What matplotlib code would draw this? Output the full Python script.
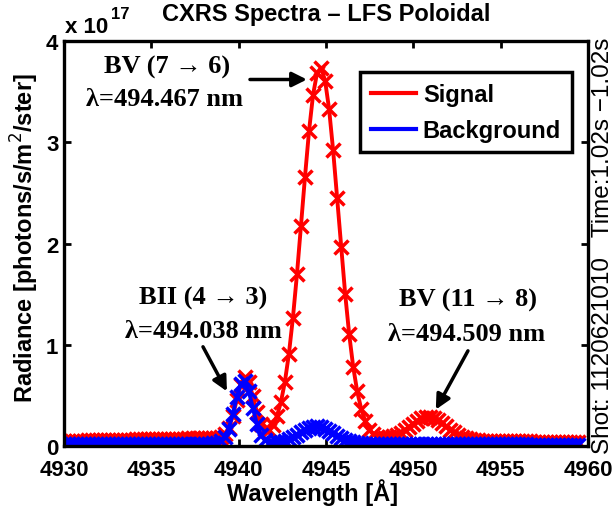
import numpy as np
import matplotlib
matplotlib.use("Agg")
import matplotlib.pyplot as plt
from matplotlib.lines import Line2D

SANS = ["Liberation Sans", "DejaVu Sans"]
SERIF = ["Liberation Serif", "DejaVu Serif"]

# spectrometer pixel grid (linear dispersion, Angstrom)
WL_START = 4930.0
WL_STEP = 0.23
N_PIX = 129

# radiance in units of 1e17 photons/s/m^2/ster
signal = [
    0.050, 0.051, 0.052, 0.052, 0.053, 0.054, 0.055, 0.056, 0.056, 0.057,
    0.058, 0.059, 0.060, 0.061, 0.061, 0.062, 0.063, 0.064, 0.065, 0.065,
    0.066, 0.067, 0.068, 0.069, 0.069, 0.070, 0.071, 0.072, 0.073, 0.074,
    0.074, 0.075, 0.076, 0.077, 0.078, 0.078, 0.079, 0.081, 0.083, 0.091,
    0.117, 0.179, 0.293, 0.451, 0.604, 0.679, 0.634, 0.495, 0.339, 0.221,
    0.164, 0.163, 0.207, 0.294, 0.432, 0.635, 0.912, 1.268, 1.696, 2.172,
    2.659, 3.109, 3.466, 3.685, 3.736, 3.610, 3.327, 2.922, 2.448, 1.961,
    1.503, 1.104, 0.782, 0.539, 0.365, 0.249, 0.161, 0.118, 0.093, 0.083,
    0.080, 0.086, 0.095, 0.111, 0.132, 0.160, 0.190, 0.222, 0.250, 0.273,
    0.285, 0.287, 0.276, 0.256, 0.227, 0.195, 0.163, 0.134, 0.109, 0.090,
    0.076, 0.067, 0.060, 0.056, 0.053, 0.050, 0.050, 0.049, 0.049, 0.048,
    0.048, 0.047, 0.047, 0.046, 0.046, 0.045, 0.045, 0.044, 0.044, 0.043,
    0.043, 0.042, 0.042, 0.041, 0.041, 0.040, 0.040, 0.040, 0.040,
]

background = [
    0.020, 0.020, 0.020, 0.020, 0.020, 0.020, 0.020, 0.020, 0.020, 0.020,
    0.020, 0.020, 0.020, 0.021, 0.021, 0.021, 0.021, 0.021, 0.021, 0.021,
    0.021, 0.021, 0.021, 0.021, 0.021, 0.022, 0.022, 0.022, 0.022, 0.022,
    0.022, 0.023, 0.023, 0.023, 0.023, 0.024, 0.024, 0.026, 0.030, 0.045,
    0.085, 0.171, 0.312, 0.482, 0.614, 0.639, 0.543, 0.378, 0.220, 0.112,
    0.057, 0.034, 0.032, 0.035, 0.042, 0.053, 0.067, 0.087, 0.110, 0.135,
    0.158, 0.178, 0.190, 0.193, 0.186, 0.171, 0.150, 0.124, 0.100, 0.078,
    0.060, 0.046, 0.035, 0.029, 0.025, 0.023, 0.020, 0.020, 0.020, 0.020,
    0.020, 0.020, 0.020, 0.020, 0.020, 0.020, 0.018, 0.018, 0.018, 0.018,
    0.018, 0.018, 0.018, 0.018, 0.018, 0.018, 0.016, 0.016, 0.016, 0.016,
    0.016, 0.016, 0.016, 0.016, 0.016, 0.016, 0.015, 0.015, 0.015, 0.015,
    0.015, 0.015, 0.015, 0.015, 0.015, 0.015, 0.013, 0.013, 0.013, 0.013,
    0.013, 0.013, 0.013, 0.013, 0.013, 0.013, 0.013, 0.013, 0.013,
]

wavelength = WL_START + WL_STEP * np.arange(N_PIX)

fig = plt.figure(figsize=(6.15, 5.1), dpi=100)
ax = fig.add_axes([0.104, 0.1235, 0.852, 0.7941])

ax.plot(wavelength, signal, color="red", lw=2.8, marker="x", ms=9.5, mew=2.5)
ax.plot(wavelength, background, color="blue", lw=2.8, marker="x", ms=9.5,
        mew=2.5)

ax.set_xlim(4930, 4960)
ax.set_ylim(0, 4)
ax.set_xticks(np.arange(4930, 4961, 5))
ax.set_yticks(np.arange(0, 5, 1))
for s in ax.spines.values():
    s.set_linewidth(2.4)
ax.tick_params(direction="in", top=True, right=True, length=5, width=2,
               labelsize=16)
ax.tick_params(axis="x", pad=9)
ax.tick_params(axis="y", pad=4)
for lab in ax.get_xticklabels() + ax.get_yticklabels():
    lab.set_family(SANS)
    lab.set_fontweight("bold")

# exponent on the y axis
fig.text(65 / 615, 1 - 33 / 510, "x 10", family=SANS, weight="bold",
         fontsize=16, va="baseline", ha="left")
fig.text(111 / 615, 1 - 19 / 510, "17", family=SANS, weight="bold",
         fontsize=12, va="baseline", ha="left")

fig.text(326 / 615, 1 - 15 / 510, "CXRS Spectra \u2013 LFS Poloidal",
         family=SANS, weight="bold", fontsize=17, ha="center", va="center")
fig.text(313 / 615, 1 - 493 / 510, "Wavelength [\u00c5]", family=SANS,
         weight="bold", fontsize=17, ha="center", va="center")
fig.text(25 / 615, 1 - 238 / 510, "Radiance [photons/s/m$^2$/ster]",
         family=SANS, weight="bold", fontsize=17, ha="center", va="center",
         rotation=90)
fig.text(603 / 615, 1 - 246 / 510,
         "Shot: 1120621010   Time:1.02s \u22121.02s", family=SANS,
         fontsize=17.5, ha="center", va="center", rotation=90)

leg = ax.legend(
    handles=[Line2D([], [], color="red", lw=3),
             Line2D([], [], color="blue", lw=3)],
    labels=["Signal", "Background"],
    loc="upper right", bbox_to_anchor=(0.969, 0.923), borderaxespad=0,
    prop={"family": SANS, "weight": "bold", "size": 17},
    fancybox=False, framealpha=1, edgecolor="black",
    handlelength=1.9, handletextpad=0.3, borderpad=0.45, labelspacing=0.55,
)
leg.get_frame().set_linewidth(2.5)

# line identifications
lab_kw = dict(family=SERIF, weight="bold", fontsize=19, ha="center",
              va="center")
arrow_kw = dict(arrowstyle="-|>", color="black", lw=2.5, mutation_scale=22,
                shrinkA=0, shrinkB=0)

ax.text(4935.90, 3.75, "BV (7 \u2192 6)", **lab_kw)
ax.text(4935.78, 3.43, "\u03bb=494.467 nm", **lab_kw)
ax.annotate("", xy=(4943.91, 3.62), xytext=(4940.65, 3.62),
            arrowprops=arrow_kw)

ax.text(4937.96, 1.47, "BII (4 \u2192 3)", **lab_kw)
ax.text(4937.96, 1.14, "\u03bb=494.038 nm", **lab_kw)
ax.annotate("", xy=(4939.33, 0.54), xytext=(4937.96, 0.98),
            arrowprops=arrow_kw)

ax.text(4953.13, 1.45, "BV (11 \u2192 8)", **lab_kw)
ax.text(4953.07, 1.11, "\u03bb=494.509 nm", **lab_kw)
ax.annotate("", xy=(4951.29, 0.36), xytext=(4953.13, 0.94),
            arrowprops=arrow_kw)

fig.savefig("out.png", dpi=100)
